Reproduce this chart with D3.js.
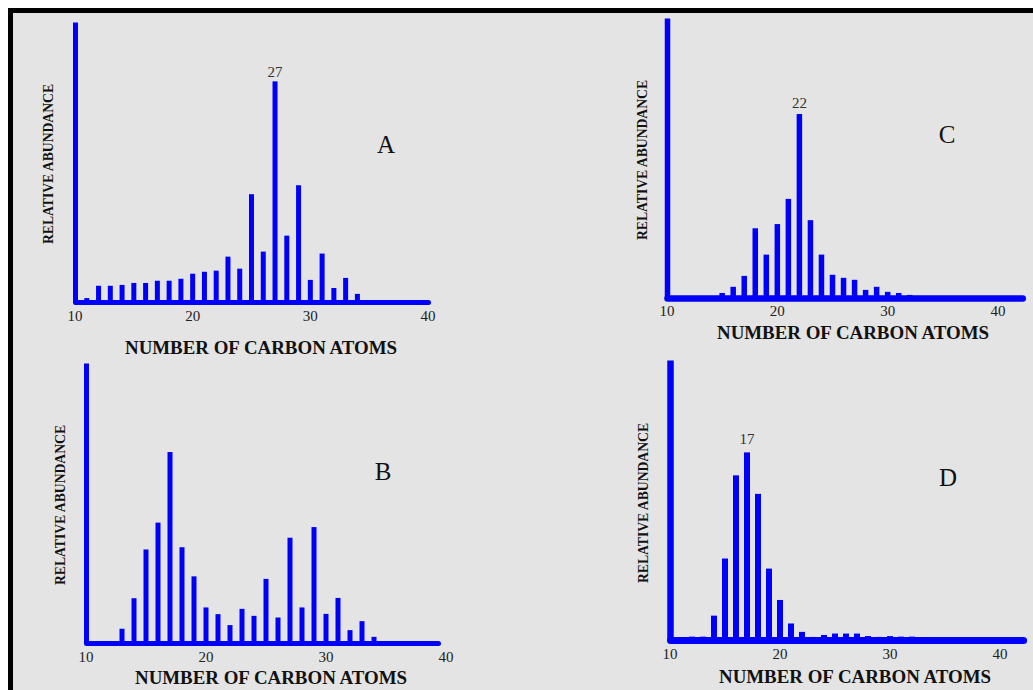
<!DOCTYPE html>
<html>
<head>
  <meta charset="utf-8">
  <script src="https://d3js.org/d3.v7.min.js"></script>
  <style>
    body { margin: 0; background: #fff; }
    .tick text { font-family: "Liberation Serif", "DejaVu Serif", serif; font-size: 15px; fill: #222; }
    .axis-title { font-family: "Liberation Serif", serif; font-weight: bold; fill: #111; }
    .peak { font-family: "Liberation Serif", serif; font-size: 15px; fill: #333; }
    .letter { font-family: "Liberation Serif", serif; font-size: 25px; fill: #111; }
  </style>
</head>
<body>
<div id="plot"></div>
<script>
// relative abundance (percent of the C10 peak height) by number of carbon atoms
var carbonsA = [11,12,13,14,15,16,17,18,19,20,21,22,23,24,25,26,27,28,29,30,31,32,33,34];
var valuesA  = [1.4,5.8,5.8,6.1,6.8,6.8,7.6,7.6,8.3,10.1,10.8,11.2,16.2,11.9,38.5,18,78.8,23.7,41.7,7.9,17.3,5,8.6,2.9];

var carbonsB = [13,14,15,16,17,18,19,20,21,22,23,24,25,26,27,28,29,30,31,32,33,34];
var valuesB  = [5.1,16,33.4,43,68.2,34.2,23.8,12.7,10.3,6.4,12.2,9.7,22.9,9.1,37.6,12.7,41.4,10.4,16.1,4.6,7.8,2.2];

var carbonsC = [15,16,17,18,19,20,21,22,23,24,25,26,27,28,29,30,31,32];
var valuesC  = [1.8,4,7.9,24.9,15.5,26.4,35.4,65.7,27.8,15.5,8.3,7.2,6.5,2.9,4,2.2,1.8,1.1];

var carbonsD = [12,13,14,15,16,17,18,19,20,21,22,23,24,25,26,27,28,29,30,31,32];
var valuesD  = [1.2,1.2,8.7,29.1,58.8,67,52.2,25.5,14.3,5.9,2.9,1.1,1.8,2.3,2.3,2.3,1.4,1.1,1.4,1.2,1.2];

var tickLabels = [10, 20, 30, 40];
var peakLabels = {A: 27, B: null, C: 22, D: 17};

var blue = "#0000fa";

var svg = d3.select('#plot').append('svg')
  .attr('width', 1033)
  .attr('height', 690);

// frame
svg.append('rect').attr('x', 0).attr('y', 0).attr('width', 1033).attr('height', 690).style('fill', '#fff');
svg.append('rect').attr('x', 10.5).attr('y', 10.5).attr('width', 1040).attr('height', 700)
  .style('fill', '#e4e4e4').style('stroke', '#000').style('stroke-width', 5);

var panels = [
  {name: 'A', carbons: carbonsA, values: valuesA, x0: 75, x40: 428, xEnd: 40, yBase: 302, yTop: 22,
   barW: 5, axisW: 5, baseW: 5, pad: 8, gap: 4,
   letter: [386, 153], ylab: [48, 164], xlab: [261, 348]},
  {name: 'B', carbons: carbonsB, values: valuesB, x0: 86, x40: 446, xEnd: 39.33, yBase: 643, yTop: 363,
   barW: 5, axisW: 5, baseW: 5, pad: 8, gap: 5,
   letter: [383, 480], ylab: [60, 505], xlab: [271, 678]},
  {name: 'C', carbons: carbonsC, values: valuesC, x0: 667, x40: 998, xEnd: 42.2, yBase: 298, yTop: 18,
   barW: 5.5, axisW: 5.5, baseW: 6.5, pad: 7, gap: 6,
   letter: [947, 143], ylab: [642, 160], xlab: [853, 333]},
  {name: 'D', carbons: carbonsD, values: valuesD, x0: 670, x40: 1000, xEnd: 42.1, yBase: 640, yTop: 360,
   barW: 6, axisW: 6.5, baseW: 7, pad: 8, gap: 8,
   letter: [948, 486], ylab: [643, 503], xlab: [855, 677]}
];

panels.forEach(function(p){
  var g = svg.append('g').attr('class', 'panel');

  var xScale = d3.scaleLinear().domain([10, 40]).range([p.x0, p.x40]);
  var yScale = d3.scaleLinear().domain([0, 100]).range([p.yBase, p.yTop]);

  var data = p.carbons.map(function(c, i){ return {c: c, v: p.values[i]}; });

  // bars
  g.selectAll('.bar')
    .data(data)
    .enter().append('rect')
    .attr('class', 'bar')
    .attr('x', function(d){ return xScale(d.c) - p.barW / 2; })
    .attr('y', function(d){ return yScale(d.v); })
    .attr('width', p.barW)
    .attr('height', function(d){ return p.yBase - yScale(d.v); })
    .style('fill', blue);

  // x-axis
  var xAxisScale = xScale.copy().domain([10, p.xEnd])
    .range([p.x0, xScale(p.xEnd)]);
  var xAxis = d3.axisBottom(xAxisScale)
    .tickValues(tickLabels)
    .tickSize(0)
    .tickSizeOuter(0)
    .tickPadding(p.pad)
    .tickFormat(d3.format('d'));
  var xg = g.append('g')
    .attr('transform', 'translate(0,' + p.yBase + ')')
    .call(xAxis);
  xg.select('.domain')
    .style('stroke', blue).style('stroke-width', p.baseW).style('stroke-linecap', 'round');
  // keep the "40" label under the line even when the line stops short of it
  xg.selectAll('.tick')
    .attr('transform', function(d){ return 'translate(' + xScale(d) + ',0)'; });

  // y-axis (the big C10 line)
  var yAxis = d3.axisLeft(yScale).tickValues([]).tickSizeOuter(0);
  var yg = g.append('g')
    .attr('transform', 'translate(' + p.x0 + ',0)')
    .call(yAxis);
  yg.select('.domain')
    .style('stroke', blue).style('stroke-width', p.axisW);
  xg.raise();

  // peak label
  var peak = peakLabels[p.name];
  if (peak) {
    var pd = data.filter(function(d){ return d.c === peak; })[0];
    g.append('text')
      .attr('class', 'peak')
      .attr('x', xScale(pd.c))
      .attr('y', yScale(pd.v) - p.gap)
      .style('text-anchor', 'middle')
      .text(peak);
  }

  // panel letter
  g.append('text')
    .attr('class', 'letter')
    .attr('x', p.letter[0])
    .attr('y', p.letter[1])
    .style('text-anchor', 'middle')
    .text(p.name);

  // y label
  g.append('text')
    .attr('class', 'axis-title')
    .attr('transform', 'translate(' + p.ylab[0] + ',' + p.ylab[1] + ') rotate(-90)')
    .attr('dy', '0.35em')
    .attr('textLength', 160)
    .attr('lengthAdjust', 'spacingAndGlyphs')
    .style('font-size', '14.5px')
    .style('text-anchor', 'middle')
    .text('RELATIVE ABUNDANCE');

  // x label
  g.append('text')
    .attr('class', 'axis-title')
    .attr('x', p.xlab[0])
    .attr('y', p.xlab[1])
    .attr('dy', '0.35em')
    .attr('textLength', 272)
    .attr('lengthAdjust', 'spacingAndGlyphs')
    .style('font-size', '18px')
    .style('text-anchor', 'middle')
    .text('NUMBER OF CARBON ATOMS');
});
</script>
</body>
</html>
